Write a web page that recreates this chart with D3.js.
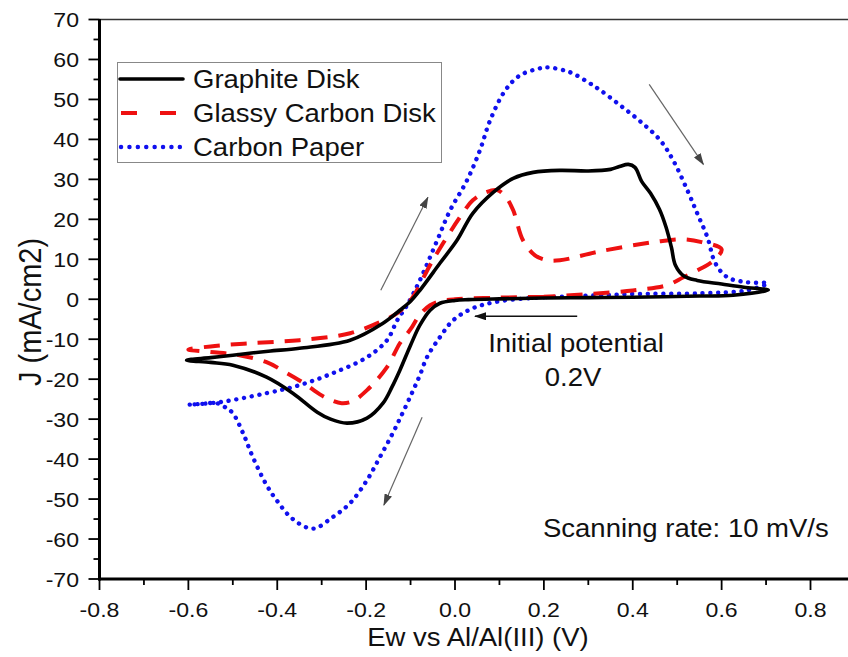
<!DOCTYPE html>
<html>
<head>
<meta charset="utf-8">
<script src="https://cdn.jsdelivr.net/npm/d3@7"></script>
<style>
  html, body { margin: 0; padding: 0; background: #fff; }
  svg { display: block; font-family: "Liberation Sans", Arial, sans-serif; }
</style>
</head>
<body>
<svg id="chart" width="848" height="657"></svg>
<script>
// Cyclic voltammograms, potential (V) vs current density (mA/cm2)
// Each loop starts at 0.2 V, sweeps negative to -0.6 V, up to 0.7 V and back.

const graphiteE = [0.2, 0.1, 0.03, 0.0, -0.034, -0.056, -0.079, -0.1, -0.124, -0.142, -0.162, -0.198, -0.243, -0.28, -0.31, -0.365, -0.424, -0.5, -0.55, -0.604,
  -0.55, -0.5, -0.42, -0.35, -0.236, -0.162, -0.124, -0.1, -0.079, -0.034, 0.0045, 0.04, 0.086, 0.131, 0.176, 0.236, 0.3, 0.35, 0.37, 0.39, 0.405, 0.42, 0.44, 0.46, 0.475, 0.487, 0.496, 0.515, 0.545, 0.6, 0.65, 0.705,
  0.626, 0.55, 0.4, 0.3, 0.2];
const graphiteJ = [0.3, 0.1, -0.1, -0.3, -1, -2.75, -6.5, -11.5, -17.75, -22, -26, -29.75, -31, -30, -28.25, -23.5, -19.5, -16.5, -15.8, -15.25,
  -14.6, -14, -13, -12.25, -10.25, -6, -2.75, -0.5, 2.25, 9, 14.75, 21.5, 26.75, 30.25, 31.75, 32.25, 32.1, 32.5, 33.2, 33.75, 33, 29.5, 26.5, 22.5, 18, 13, 8.5, 5.8, 4.7, 3.8, 3, 2.3,
  1, 0.8, 0.5, 0.4, 0.3];

const glassyE = [0.2, 0.1, 0.0, -0.034, -0.056, -0.08, -0.1, -0.124, -0.153, -0.198, -0.23, -0.255, -0.28, -0.304, -0.34, -0.378, -0.424, -0.485, -0.55, -0.6,
  -0.55, -0.46, -0.35, -0.236, -0.16, -0.13, -0.1, -0.05, 0.011, 0.04, 0.07, 0.095, 0.115, 0.131, 0.153, 0.18, 0.207, 0.236, 0.327, 0.46, 0.514, 0.555, 0.6,
  0.58, 0.55, 0.514, 0.477, 0.4, 0.3, 0.2];
const glassyJ = [0.6, 0.4, 0, -0.5, -1.5, -4, -7.5, -11, -17, -22.75, -25.5, -26, -25.2, -23.8, -21, -18.5, -15.75, -14, -13.2, -12.6,
  -11.8, -11, -10.25, -8.5, -5.25, -3.5, -0.25, 9.75, 20.5, 24.75, 26.8, 27.3, 25.5, 22.25, 14.75, 11, 9.75, 9.75, 12, 14.5, 15, 14.3, 12.5,
  9.5, 7.5, 5.5, 3.5, 2.2, 1.3, 0.6];

const paperE = [0.2, 0.1, 0.04, -0.004, -0.034, -0.063, -0.079, -0.095, -0.117, -0.14, -0.169, -0.198, -0.236, -0.275, -0.32, -0.365, -0.4, -0.424, -0.455, -0.477, -0.5, -0.514, -0.536, -0.57, -0.6,
  -0.53, -0.424, -0.35, -0.275, -0.198, -0.153, -0.13, -0.108, -0.079, -0.04, -0.011, 0.027, 0.056, 0.079, 0.113, 0.146, 0.19, 0.21, 0.26, 0.3, 0.327, 0.372, 0.417, 0.462, 0.491, 0.523, 0.545, 0.568, 0.586, 0.613, 0.658, 0.703,
  0.658, 0.552, 0.4, 0.327, 0.2];
const paperJ = [0.5, -0.5, -2.25, -5.25, -9.5, -14.5, -19, -23, -28.25, -33.5, -39.5, -45.25, -51, -54.5, -57.4, -55, -50.5, -46.5, -39.5, -33.5, -28.5, -27.25, -26, -26.2, -26.4,
  -25.75, -23.5, -21.5, -18.5, -14.5, -10.25, -5.25, -1.5, 4.75, 14.75, 22.25, 29.75, 37.25, 44.75, 52.25, 56, 57.75, 58, 56.75, 54.25, 52.3, 48.5, 44.5, 39.75, 34.75, 27.25, 21.5, 15.5, 9, 5.5, 4.25, 4,
  2.25, 1.5, 1.3, 1, 0.5];

const seriesNames = ["Graphite Disk", "Glassy Carbon Disk", "Carbon Paper"];
const xTicks = [-0.8, -0.6, -0.4, -0.2, 0.0, 0.2, 0.4, 0.6, 0.8];
const yTicks = [-70, -60, -50, -40, -30, -20, -10, 0, 10, 20, 30, 40, 50, 60, 70];

const svg = d3.select("#chart");
const x = d3.scaleLinear().domain([-0.8, 0.8]).range([99.5, 810.5]);
const y = d3.scaleLinear().domain([-70, 70]).range([579, 19.5]);
const sx = 1.1; // glyphs drawn slightly wide

function label(g, px, py, txt, size, anchor, rot) {
  return g.append("text")
    .attr("transform", `translate(${px},${py})` + (rot ? ` rotate(${rot})` : "") + ` scale(${rot ? 1 : sx},${rot ? sx : 1})`)
    .attr("text-anchor", anchor || "start")
    .attr("font-size", size)
    .attr("fill", "#111")
    .text(txt);
}

const styles = [
  { color: "#000", width: 3.6, dash: null, cap: "round" },
  { color: "#ee1111", width: 4, dash: "16,11", cap: "butt" },
  { color: "#1010ee", width: 4.4, dash: "0.1,7.7", cap: "round" }
];
const data = [
  d3.zip(graphiteE, graphiteJ),
  d3.zip(glassyE, glassyJ),
  d3.zip(paperE, paperJ)
];

const line = d3.line().x(d => x(d[0])).y(d => y(d[1])).curve(d3.curveCatmullRom.alpha(0.5));

// curves, drawn back to front
[2, 1, 0].forEach(i => {
  const s = styles[i];
  svg.append("path")
    .datum(data[i])
    .attr("d", line)
    .attr("fill", "none")
    .attr("stroke", s.color)
    .attr("stroke-width", s.width)
    .attr("stroke-linecap", s.cap)
    .attr("stroke-linejoin", "round")
    .attr("stroke-dasharray", s.dash);
});

// top frame
svg.append("line").attr("x1", 99.5).attr("x2", 860).attr("y1", 19.5).attr("y2", 19.5)
  .attr("stroke", "#333").attr("stroke-width", 1.6);

// x axis
const xAxis = svg.append("g");
xAxis.append("line").attr("x1", 98).attr("x2", 860).attr("y1", 579).attr("y2", 579)
  .attr("stroke", "#000").attr("stroke-width", 3);
d3.range(-8, 10).forEach(k => {
  const v = k / 10, major = k % 2 === 0;
  xAxis.append("line").attr("x1", x(v)).attr("x2", x(v)).attr("y1", 579).attr("y2", 579 + (major ? 11 : 6))
    .attr("stroke", "#000").attr("stroke-width", 1.8);
});
xTicks.forEach(v => label(xAxis, x(v), 617, d3.format(".1f")(v).replace("−", "-"), 21, "middle"));

// y axis
const yAxis = svg.append("g");
yAxis.append("line").attr("x1", 99.5).attr("x2", 99.5).attr("y1", 19).attr("y2", 580.5)
  .attr("stroke", "#000").attr("stroke-width", 3);
d3.range(-70, 71, 5).forEach(v => {
  const major = v % 10 === 0;
  yAxis.append("line").attr("x1", 99.5).attr("x2", 99.5 - (major ? 11 : 6)).attr("y1", y(v)).attr("y2", y(v))
    .attr("stroke", "#000").attr("stroke-width", 1.8);
});
yTicks.forEach(v => label(yAxis, 79, y(v) + 7.5, d3.format("d")(v).replace("−", "-"), 21, "end"));

// axis titles
label(svg, 478, 646, "Ew vs Al/Al(III) (V)", 25, "middle");
label(svg, 41, 312, "J (mA/cm2)", 29, "middle", -90);

// direction arrows
const defs = svg.append("defs");
function marker(id, color) {
  defs.append("marker").attr("id", id).attr("viewBox", "0 0 12 8").attr("refX", 11).attr("refY", 4)
    .attr("markerWidth", 12).attr("markerHeight", 8).attr("markerUnits", "userSpaceOnUse").attr("orient", "auto")
    .append("path").attr("d", "M0,0 L12,4 L0,8 Z").attr("fill", color);
}
marker("hg", "#444");
marker("hb", "#111");
function arrow(x1, y1, x2, y2, color, w, id) {
  svg.append("line").attr("x1", x1).attr("y1", y1).attr("x2", x2).attr("y2", y2)
    .attr("stroke", color).attr("stroke-width", w).attr("marker-end", `url(#${id})`);
}
arrow(x(-0.167), y(2.25), x(-0.061), y(25.5), "#666", 1.2, "hg");
arrow(x(0.437), y(53.75), x(0.559), y(33.75), "#666", 1.2, "hg");
arrow(x(-0.074), y(-29.5), x(-0.16), y(-51.5), "#666", 1.2, "hg");
arrow(x(0.275), y(-4.25), x(0.045), y(-4.25), "#111", 1.5, "hb");

// annotations
label(svg, 576, 352, "Initial potential", 25, "middle");
label(svg, 573, 386, "0.2V", 25, "middle");
label(svg, 543, 537, "Scanning rate: 10 mV/s", 25, "start");

// legend
const lg = svg.append("g");
lg.append("rect").attr("x", 117.5).attr("y", 62.5).attr("width", 324).attr("height", 100)
  .attr("fill", "#fff").attr("stroke", "#888").attr("stroke-width", 1);
const rowY = [79, 113, 147];
seriesNames.forEach((name, i) => {
  const s = styles[i];
  lg.append("line").attr("x1", i === 0 ? 120 : 121).attr("x2", 183).attr("y1", rowY[i]).attr("y2", rowY[i])
    .attr("stroke", s.color).attr("stroke-width", s.width)
    .attr("stroke-linecap", s.cap)
    .attr("stroke-dasharray", i === 1 ? "16,23" : i === 2 ? "0.1,8.3" : null);
  label(lg, 193, rowY[i] + 9, name, 25, "start");
});
</script>
</body>
</html>
